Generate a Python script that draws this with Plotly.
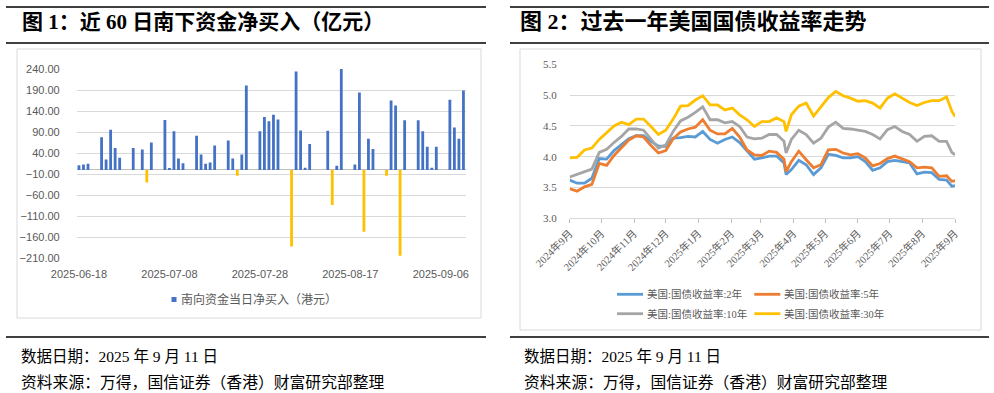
import plotly.graph_objects as go

W, H = 994, 393

# ---------------- Chart 1 data: southbound daily net buy (100m HKD) ----------------
flow_dates = [
    "2025-06-18", "2025-06-19", "2025-06-20", "2025-06-23", "2025-06-24", "2025-06-25",
    "2025-06-26", "2025-06-27", "2025-06-30", "2025-07-02", "2025-07-03", "2025-07-04",
    "2025-07-07", "2025-07-08", "2025-07-09", "2025-07-10", "2025-07-11", "2025-07-14",
    "2025-07-15", "2025-07-16", "2025-07-17", "2025-07-18", "2025-07-21", "2025-07-22",
    "2025-07-23", "2025-07-24", "2025-07-25", "2025-07-28", "2025-07-29", "2025-07-30",
    "2025-07-31", "2025-08-01", "2025-08-04", "2025-08-05", "2025-08-06", "2025-08-07",
    "2025-08-08", "2025-08-12", "2025-08-13", "2025-08-14", "2025-08-15", "2025-08-18",
    "2025-08-19", "2025-08-20", "2025-08-21", "2025-08-22", "2025-08-25", "2025-08-26",
    "2025-08-27", "2025-08-28", "2025-08-29", "2025-09-01", "2025-09-02", "2025-09-03",
    "2025-09-04", "2025-09-05", "2025-09-08", "2025-09-09", "2025-09-10", "2025-09-11",
]
flow_values = [
    11, 13, 14.5, 78, 25, 95.5,
    52, 29, 52, 48.5, -30, 65,
    119, 4, 92, 27.5, 16, 81.5,
    37, 14.5, 17.5, 58, 70, 27,
    -14, 37, 201, 92, 126, 116,
    131, 120, -182, 234, 94, 5,
    62, 93, -83, 10, 250, 13,
    184, -147, 74, 50, -14, 165,
    153, -204, 118, 118, 92, 55,
    5, 55, 167, 101, 74, 189,
]
flow_tick_dates = ["2025-06-18", "2025-07-08", "2025-07-28", "2025-08-17", "2025-09-06"]
flow_y_ticks = [-210, -160, -110, -60, -10, 40, 90, 140, 190, 240]
flow_legend = "南向资金当日净买入（港元）"

# ---------------- Chart 2 data: US Treasury yields (%) ----------------
ust_dates = [
    "2024-09-11", "2024-09-18", "2024-09-25", "2024-10-02", "2024-10-09", "2024-10-16",
    "2024-10-23", "2024-10-30", "2024-11-06", "2024-11-13", "2024-11-20", "2024-11-27",
    "2024-12-04", "2024-12-11", "2024-12-18", "2024-12-25", "2025-01-01", "2025-01-08",
    "2025-01-15", "2025-01-22", "2025-01-29", "2025-02-05", "2025-02-12", "2025-02-19",
    "2025-02-26", "2025-03-05", "2025-03-12", "2025-03-19", "2025-03-26", "2025-04-02",
    "2025-04-04", "2025-04-09", "2025-04-16", "2025-04-23", "2025-04-30", "2025-05-07",
    "2025-05-14", "2025-05-21", "2025-05-28", "2025-06-04", "2025-06-11", "2025-06-18",
    "2025-06-25", "2025-07-02", "2025-07-09", "2025-07-16", "2025-07-23", "2025-07-30",
    "2025-08-06", "2025-08-13", "2025-08-20", "2025-08-27", "2025-09-03", "2025-09-08",
    "2025-09-11",
]
ust_2y = [
    3.62, 3.57, 3.57, 3.65, 3.97, 3.96, 4.10, 4.19, 4.29, 4.34, 4.34, 4.25,
    4.17, 4.17, 4.30, 4.31, 4.33, 4.32, 4.41, 4.28, 4.22, 4.28, 4.32, 4.23,
    4.09, 3.96, 3.98, 4.01, 4.01, 3.90, 3.71, 3.79, 3.94, 3.87, 3.71, 3.82,
    4.04, 4.02, 3.98, 3.98, 4.00, 3.92, 3.78, 3.82, 3.92, 3.94, 3.92, 3.90,
    3.72, 3.75, 3.74, 3.63, 3.62, 3.52, 3.53,
]
ust_5y = [
    3.48, 3.44, 3.51, 3.55, 3.89, 3.86, 4.02, 4.15, 4.27, 4.34, 4.32, 4.18,
    4.06, 4.10, 4.29, 4.40, 4.45, 4.48, 4.60, 4.43, 4.37, 4.37, 4.46, 4.32,
    4.11, 4.03, 4.02, 4.09, 4.07, 3.96, 3.76, 3.92, 4.09, 3.95, 3.82, 3.87,
    4.11, 4.12, 4.06, 4.03, 4.05, 3.98, 3.85, 3.89, 3.97, 4.01, 3.97, 3.92,
    3.82, 3.83, 3.82, 3.68, 3.69, 3.60, 3.61,
]
ust_10y = [
    3.67, 3.71, 3.76, 3.80, 4.07, 4.12, 4.23, 4.33, 4.45, 4.45, 4.43, 4.28,
    4.14, 4.19, 4.41, 4.58, 4.64, 4.72, 4.81, 4.60, 4.60, 4.55, 4.57, 4.49,
    4.32, 4.29, 4.30, 4.36, 4.36, 4.25, 4.06, 4.28, 4.43, 4.36, 4.22, 4.30,
    4.48, 4.56, 4.46, 4.45, 4.43, 4.41, 4.36, 4.29, 4.44, 4.49, 4.41, 4.36,
    4.25, 4.33, 4.34, 4.25, 4.25, 4.07, 4.03,
]
ust_30y = [
    3.98, 3.99, 4.11, 4.14, 4.28, 4.39, 4.50, 4.56, 4.52, 4.61, 4.61, 4.49,
    4.36, 4.43, 4.61, 4.82, 4.83, 4.92, 4.99, 4.84, 4.84, 4.76, 4.79, 4.68,
    4.60, 4.49, 4.57, 4.57, 4.63, 4.57, 4.41, 4.68, 4.82, 4.87, 4.66, 4.81,
    4.96, 5.06, 4.99, 4.95, 4.90, 4.91, 4.87, 4.79, 4.95, 5.02, 4.95, 4.88,
    4.83, 4.88, 4.91, 4.91, 4.97, 4.74, 4.65,
]
ust_names = ["美国:国债收益率:2年", "美国:国债收益率:5年", "美国:国债收益率:10年", "美国:国债收益率:30年"]
ust_colors = ["#5B9BD5", "#ED7D31", "#A5A5A5", "#FFC000"]
ust_tick_dates = [
    "2024-09-11", "2024-10-11", "2024-11-11", "2024-12-11", "2025-01-11", "2025-02-11",
    "2025-03-11", "2025-04-11", "2025-05-11", "2025-06-11", "2025-07-11", "2025-08-11",
    "2025-09-11",
]
ust_tick_labels = [
    "2024年9月", "2024年10月", "2024年11月", "2024年12月", "2025年1月", "2025年2月",
    "2025年3月", "2025年4月", "2025年5月", "2025年6月", "2025年7月", "2025年8月",
    "2025年9月",
]

titles = ["图 1：近 60 日南下资金净买入（亿元）", "图 2：过去一年美国国债收益率走势"]
footer_date = "数据日期：2025 年 9 月 11 日"
footer_src = "资料来源：万得，国信证券（香港）财富研究部整理"

# ---------------- helpers ----------------
def fx(x):
    return x / W

def fy(y):
    return 1 - y / H

SERIF = "Liberation Serif, Noto Sans CJK SC, serif"
SANS = "Liberation Sans, Noto Sans CJK SC, sans-serif"
GRAY_TXT = "#595959"
GRID = "#D9D9D9"

fig = go.Figure()

bar_colors = ["#4472C4" if v >= 0 else "#FFC000" for v in flow_values]
fig.add_trace(go.Bar(
    x=flow_dates, y=flow_values, marker=dict(color=bar_colors, line=dict(width=0)),
    width=0.62 * 86400000, xaxis="x", yaxis="y", name=flow_legend, showlegend=False,
))

for name, vals, col in zip(ust_names, [ust_2y, ust_5y, ust_10y, ust_30y], ust_colors):
    fig.add_trace(go.Scatter(
        x=ust_dates, y=vals, mode="lines", line=dict(color=col, width=2.8),
        xaxis="x2", yaxis="y2", name=name, showlegend=False,
    ))

fig.update_layout(
    width=W, height=H, margin=dict(l=0, r=0, t=0, b=0, pad=0), autosize=False,
    paper_bgcolor="white", plot_bgcolor="white", showlegend=False,
    xaxis=dict(
        domain=[fx(76.7), fx(465.7)], anchor="y", type="date", automargin=False,
        range=["2025-06-17 12:00", "2025-09-11 12:00"],
        tickvals=flow_tick_dates, ticktext=flow_tick_dates,
        showgrid=False, showline=False, ticks="", zeroline=False,
        tickfont=dict(family=SANS, size=11, color=GRAY_TXT), ticklabelstandoff=8,
    ),
    yaxis=dict(
        domain=[fy(258.3), fy(69)], anchor="x", range=[-210, 240], automargin=False,
        tickvals=flow_y_ticks, tickformat=".2f", showgrid=True, gridcolor=GRID, gridwidth=1,
        zeroline=True, zerolinecolor="#BFBFBF", zerolinewidth=1, showline=False, ticks="",
        tickfont=dict(family=SANS, size=11, color=GRAY_TXT), ticklabelstandoff=16,
    ),
    xaxis2=dict(
        domain=[fx(569.7), fx(955)], anchor="y2", type="date", automargin=False,
        range=["2024-09-11", "2025-09-11"],
        tickvals=ust_tick_dates, ticktext=ust_tick_labels, tickangle=-45,
        showgrid=False, showline=True, linecolor=GRID, linewidth=1,
        ticks="outside", ticklen=4, tickcolor="#BFBFBF",
        tickfont=dict(family=SERIF, size=10.5, color=GRAY_TXT),
    ),
    yaxis2=dict(
        domain=[fy(218.3), fy(64.3)], anchor="x2", range=[3.0, 5.5], dtick=0.5, automargin=False,
        tickformat=".1f", showgrid=True, gridcolor=GRID, gridwidth=1,
        zeroline=False, showline=False, ticks="",
        tickfont=dict(family=SERIF, size=11, color=GRAY_TXT), ticklabelstandoff=12,
    ),
)

shapes = []
annotations = []

def hline(x0, x1, y, color="black", width=1.5):
    shapes.append(dict(type="line", xref="paper", yref="paper",
                       x0=fx(x0), x1=fx(x1), y0=fy(y), y1=fy(y),
                       line=dict(color=color, width=width)))

def box(x0, x1, y0, y1):
    shapes.append(dict(type="rect", xref="paper", yref="paper",
                       x0=fx(x0), x1=fx(x1), y0=fy(y1), y1=fy(y0),
                       line=dict(color=GRID, width=1), fillcolor="rgba(0,0,0,0)", layer="below"))

def text(x, y, s, size, color="black", family=SERIF, xanchor="left", bold=False):
    annotations.append(dict(xref="paper", yref="paper", x=fx(x), y=fy(y), text=s,
                            showarrow=False, xanchor=xanchor, yanchor="middle",
                            font=dict(family=family, size=size, color=color,
                                      weight="bold" if bold else "normal")))

# panel frames
for (l, r) in [(6, 486), (510, 989)]:
    hline(l, r, 7)
    hline(l, r, 43)
    hline(l, r, 337)
box(17, 481, 49, 318)
box(520, 981, 49, 330)

text(20, 22, titles[0], 21, bold=True)
text(518, 22, titles[1], 22, bold=True)
for x0 in (19, 522):
    text(x0, 356, footer_date, 15.5)
    text(x0, 382, footer_src, 15.8)

# left legend
shapes.append(dict(type="rect", xref="paper", yref="paper",
                   x0=fx(171.5), x1=fx(176.5), y0=fy(302), y1=fy(297),
                   line=dict(width=0), fillcolor="#4472C4"))
text(179, 299.5, flow_legend, 12, color=GRAY_TXT, family=SANS)

# right legend
leg_pos = [(617, 294.3), (754.3, 294.3), (617, 313.7), (754.3, 313.7)]
for (lx, ly), name, col in zip(leg_pos, ust_names, ust_colors):
    shapes.append(dict(type="line", xref="paper", yref="paper",
                       x0=fx(lx), x1=fx(lx + 26), y0=fy(ly), y1=fy(ly),
                       line=dict(color=col, width=2.8)))
    text(lx + 28, ly, name, 10.5, color=GRAY_TXT, family=SERIF)

fig.update_layout(shapes=shapes, annotations=annotations)
fig.write_html(
    "out.html",
    config={"displayModeBar": False},
    post_script="document.body.style.margin='0';document.body.style.overflow='hidden';",
)
